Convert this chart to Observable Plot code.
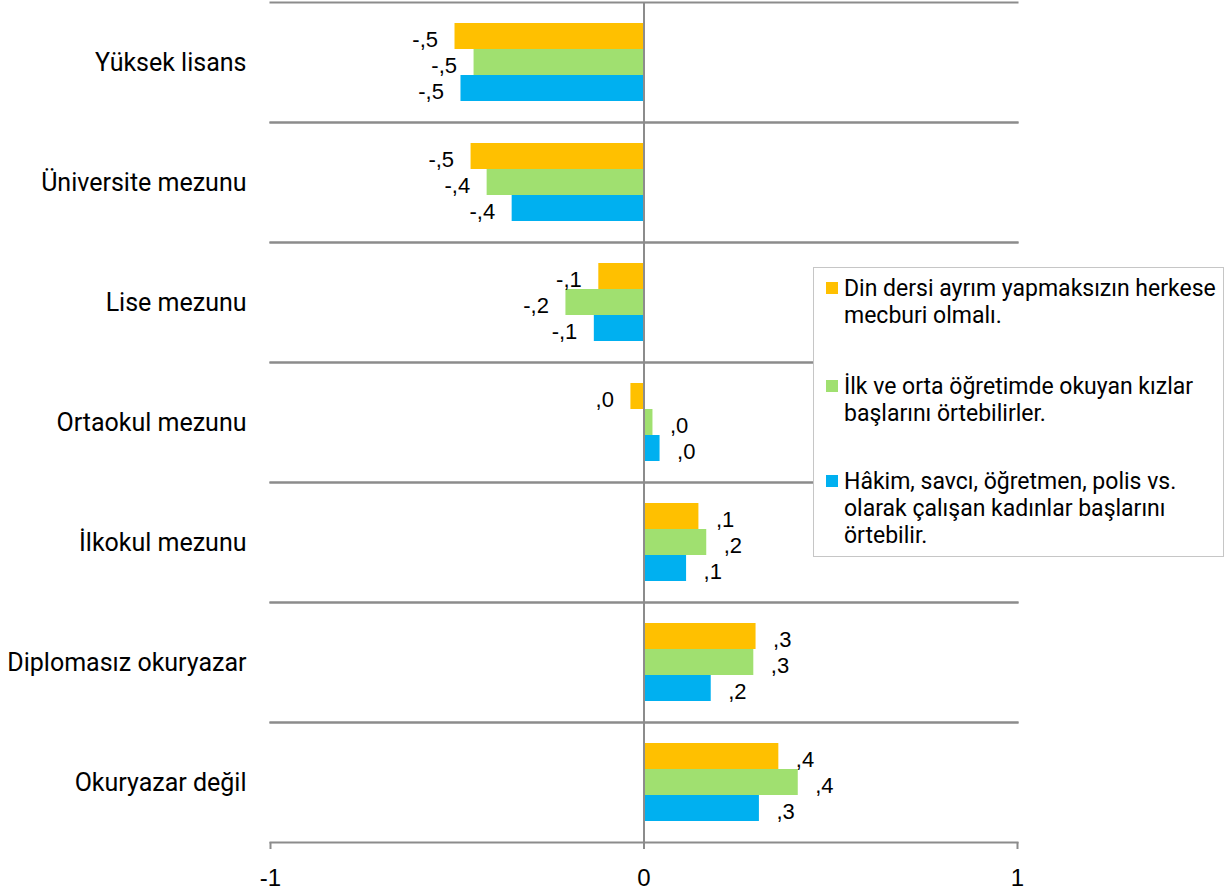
<!DOCTYPE html>
<html>
<head>
<meta charset="utf-8">
<script src="https://cdn.jsdelivr.net/npm/d3@7"></script>
<script src="https://cdn.jsdelivr.net/npm/@observablehq/plot@0.6"></script>
<style>
  html, body { margin: 0; padding: 0; background: #fff; }
  #wrap { position: relative; width: 1231px; height: 892px; }
  #legend {
    position: absolute; left: 813px; top: 267px; width: 409px; height: 288px;
    border: 1.5px solid #c6c6c6; background: #fff; box-sizing: content-box;
    font-family: Roboto, sans-serif; font-size: 23px; line-height: 27px; color: #000;
  }
  .entry { position: absolute; left: 30px; white-space: nowrap; }
  .sw { position: absolute; left: -18px; width: 12px; height: 12px; }
</style>
</head>
<body>
<div id="wrap"></div>
<script>
const categories = ["Yüksek lisans", "Üniversite mezunu", "Lise mezunu", "Ortaokul mezunu", "İlkokul mezunu", "Diplomasız okuryazar", "Okuryazar değil"];
const seriesKeys = ["din", "ilk", "hakim"];
const seriesLines = [
  ["Din dersi ayrım yapmaksızın herkese", "mecburi olmalı."],
  ["İlk ve orta öğretimde okuyan kızlar", "başlarını örtebilirler."],
  ["Hâkim, savcı, öğretmen, polis vs.", "olarak çalışan kadınlar başlarını", "örtebilir."]
];
const dinValues   = [-0.506, -0.463, -0.121, -0.035, 0.147, 0.300, 0.361];
const ilkValues   = [-0.455, -0.420, -0.209,  0.024, 0.168, 0.294, 0.413];
const hakimValues = [-0.490, -0.353, -0.133,  0.043, 0.114, 0.180, 0.309];
const xTicks = [-1, 0, 1];
const colors = ["#FFC000", "#A0E070", "#00B0F0"];

const valueArrays = [dinValues, ilkValues, hakimValues];
const data = [];
categories.forEach((c, i) => {
  seriesKeys.forEach((k, j) => data.push({category: c, key: k, value: valueArrays[j][i]}));
});

const fmt = v => {
  const r = Math.round(v * 10) / 10;
  const s = Math.abs(r).toFixed(1).replace(/^0/, "").replace(".", ",");
  return (r < 0 ? "-" : "") + s;
};

const gray = "#8c8c8c";
const labelFont = "'Liberation Sans', sans-serif";
const chart = Plot.plot({
  width: 1231,
  height: 892,
  marginLeft: 270,
  marginRight: 214,
  marginTop: 2,
  marginBottom: 50,
  style: {fontFamily: "Roboto, sans-serif", fontSize: "22px", color: "#000", background: "#fff"},
  x: {domain: [-1, 1]},
  fy: {domain: categories, padding: 0},
  y: {domain: seriesKeys, paddingInner: 0, paddingOuter: 0.75, axis: null},
  color: {domain: seriesKeys, range: colors},
  marks: [
    Plot.frame({anchor: "top", stroke: gray, strokeWidth: 2}),
    Plot.frame({anchor: "bottom", stroke: gray, strokeWidth: 2}),
    Plot.barX(data, {fy: "category", y: "key", x: "value", fill: "key"}),
    Plot.ruleX([0], {stroke: gray, strokeWidth: 2}),
    Plot.text(data.filter(d => d.value < 0), {fy: "category", y: "key", x: "value", text: d => fmt(d.value), textAnchor: "end", dx: -17, dy: 3, fontSize: 22, fontFamily: labelFont, fill: "#000"}),
    Plot.text(data.filter(d => d.value >= 0), {fy: "category", y: "key", x: "value", text: d => fmt(d.value), textAnchor: "start", dx: 17, dy: 3, fontSize: 22, fontFamily: labelFont, fill: "#000"}),
    Plot.axisX({anchor: "bottom", ticks: xTicks, tickFormat: d => String(d), tickSize: 7, tickPadding: 19, stroke: gray, strokeWidth: 2, fill: "#000", fontSize: 24, fontFamily: labelFont, label: null}),
    Plot.axisFy({anchor: "left", tickSize: 0, tickPadding: 24, fontSize: 25, fill: "#000", label: null})
  ]
});

const wrap = document.getElementById("wrap");
wrap.appendChild(chart);

const legend = document.createElement("div");
legend.id = "legend";
const tops = [7, 105, 200];
seriesLines.forEach((lines, j) => {
  const e = document.createElement("div");
  e.className = "entry";
  e.style.top = tops[j] + "px";
  const sw = document.createElement("span");
  sw.className = "sw";
  sw.style.background = colors[j];
  sw.style.top = "7px";
  e.appendChild(sw);
  lines.forEach((l, k) => {
    if (k) e.appendChild(document.createElement("br"));
    e.appendChild(document.createTextNode(l));
  });
  legend.appendChild(e);
});
wrap.appendChild(legend);
</script>
</body>
</html>
